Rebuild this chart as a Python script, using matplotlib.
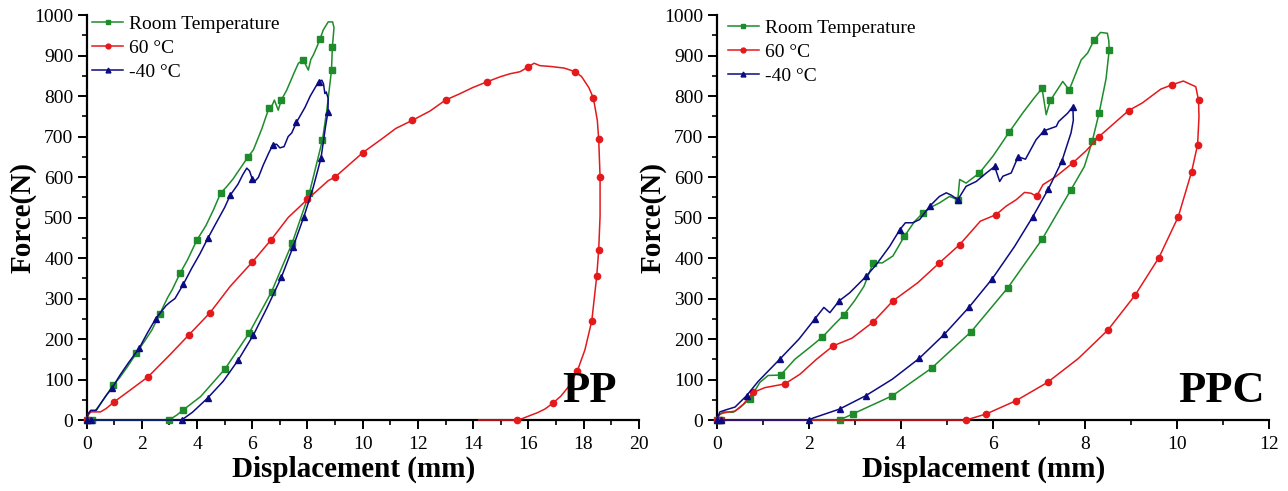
import matplotlib

matplotlib.use("Agg")
import matplotlib.pyplot as plt
from matplotlib.ticker import MultipleLocator

plt.rcParams["font.family"] = ["Liberation Serif", "DejaVu Serif"]

GREEN = "#1e8c2a"
RED = "#e3191c"
NAVY = "#0c0c82"

# ---------------- PP panel (displacement mm, force N) ----------------
pp_rt_x = [0, 0.05, 0.15, 0.3, 0.5, 0.75, 0.96, 1.2, 1.45, 1.8, 2.1, 2.36, 2.65, 2.93, 3.1,
           3.38, 3.65, 3.99, 4.32, 4.6, 4.85, 5.07, 5.3, 5.63, 5.85, 6.04, 6.35, 6.6, 6.72,
           6.8, 6.94, 7.05, 7.25, 7.5, 7.67, 7.85, 7.95, 8.03, 8.12, 8.21, 8.35, 8.45, 8.57,
           8.75, 8.91, 8.96,
           8.9, 8.87, 8.7, 8.54, 8.07, 7.44, 6.7, 5.88, 5.01, 4.13, 3.5, 3.26, 2.99, 0.2]
pp_rt_f = [0, 15, 22, 22, 40, 65, 86, 105, 129, 165, 195, 222, 262, 302, 322,
           362, 395, 444, 480, 520, 560, 576, 595, 628, 650, 667, 720, 770, 777,
           790, 765, 790, 815, 855, 881, 889, 875, 864, 890, 901, 923, 940, 963,
           983, 983, 969,
           920, 864, 765, 691, 561, 436, 317, 214, 126, 58, 25, 12, 0, 0]

pp_60_x = [0, 0.05, 0.15, 0.5, 0.7, 1.0, 1.5, 2.23, 3.0, 3.7, 4.47, 5.2, 6.0, 6.67, 7.3,
           8.0, 8.75, 9.0, 9.5, 10.0, 10.69, 11.2, 11.8, 12.44, 13.0, 13.5, 13.99, 14.5,
           15.0, 15.34, 15.7, 16.0, 16.21, 16.42, 16.8, 17.3, 17.7, 17.93, 18.2, 18.36,
           18.5, 18.55, 18.6, 18.6, 18.55, 18.48, 18.3, 18.05, 17.78, 17.49, 17.18, 16.88,
           16.6, 16.33, 16.06, 15.8, 15.6, 14.2]
pp_60_f = [0, 12, 20, 20, 28, 45, 70, 107, 160, 210, 265, 330, 390, 444, 500,
           545, 591, 600, 630, 660, 694, 720, 740, 763, 790, 805, 821, 835,
           848, 855, 860, 872, 881, 875, 873, 869, 860, 848, 820, 794,
           740, 693, 600, 504, 420, 356, 245, 173, 122, 85, 59, 41,
           27, 18, 11, 4, 0, 0]

pp_m40_x = [0, 0.05, 0.15, 0.35, 0.5, 0.7, 0.93, 1.2, 1.5, 1.9, 2.2, 2.5, 2.87, 3.0, 3.2,
            3.5, 3.8, 4.1, 4.4, 4.67, 5.0, 5.2, 5.48, 5.65, 5.8, 5.9, 6.0, 6.1, 6.22, 6.4,
            6.6, 6.75, 6.88, 7.0, 7.15, 7.3, 7.43, 7.6, 7.91, 8.1, 8.28, 8.4, 8.52, 8.58,
            8.63, 8.68, 8.75,
            8.74, 8.66, 8.49, 8.21, 7.87, 7.48, 7.05, 6.54, 6.04, 5.49, 4.95, 4.38, 3.83,
            3.44, 0.15]
pp_m40_f = [0, 15, 24, 24, 40, 60, 80, 110, 140, 177, 215, 250, 282, 290, 300,
            335, 374, 410, 450, 484, 525, 555, 582, 605, 622, 615, 595, 590, 599, 630,
            660, 680, 681, 672, 675, 700, 709, 735, 772, 800, 821, 835, 839, 830,
            806, 810, 794,
            760, 728, 647, 575, 502, 428, 352, 278, 210, 148, 96, 54, 19,
            0, 0]

# ---------------- PPC panel ----------------
ppc_rt_x = [0, 0.05, 0.15, 0.36, 0.5, 0.72, 0.94, 1.12, 1.39, 1.7, 2.02, 2.3, 2.55, 2.76,
            3.0, 3.2, 3.4, 3.6, 3.83, 4.08, 4.3, 4.48, 4.7, 4.84, 5.06, 5.24, 5.28, 5.42,
            5.71, 6.0, 6.15, 6.35, 6.65, 6.87, 7.07, 7.16, 7.25, 7.52, 7.66, 7.92, 8.06,
            8.2, 8.34, 8.49, 8.52, 8.53,
            8.46, 8.31, 8.16, 7.99, 7.69, 7.07, 6.33, 5.53, 4.67, 3.82, 2.96, 2.67, 0.1]
ppc_rt_f = [0, 12, 20, 19, 30, 52, 93, 110, 111, 150, 179, 205, 235, 259,
            295, 330, 388, 388, 405, 454, 490, 511, 528, 536, 552, 544, 594, 585,
            610, 651, 676, 710, 758, 791, 819, 754, 789, 836, 815, 889, 906,
            938, 957, 955, 937, 914,
            842, 758, 688, 626, 567, 446, 327, 218, 128, 60, 15, 0, 0]

ppc_60_x = [0, 0.07, 0.22, 0.4, 0.58, 0.79, 1.05, 1.48, 1.81, 2.17, 2.53, 2.94, 3.4, 3.83,
            4.37, 4.84, 5.28, 5.73, 6.07, 6.29, 6.51, 6.69, 6.83, 6.95, 7.09, 7.38, 7.74,
            8.03, 8.31, 8.68, 8.95, 9.25, 9.65, 9.9, 10.14, 10.41, 10.47, 10.48,
            10.45, 10.32, 10.03, 9.61, 9.09, 8.5, 7.86, 7.19, 6.51, 5.86, 5.42, 0.1]
ppc_60_f = [0, 15, 19, 22, 39, 68, 80, 89, 113, 150, 183, 202, 242, 294,
            339, 388, 433, 491, 507, 528, 544, 562, 560, 552, 581, 602, 635,
            665, 700, 737, 764, 783, 817, 828, 837, 823, 790, 748,
            680, 613, 502, 401, 308, 222, 152, 93, 48, 15, 0, 0]

ppc_m40_x = [0, 0.07, 0.2, 0.4, 0.65, 0.9, 1.37, 1.79, 2.13, 2.33, 2.46, 2.66, 2.89, 3.25,
             3.47, 3.76, 3.98, 4.1, 4.26, 4.41, 4.63, 4.84, 4.99, 5.1, 5.24, 5.42, 5.64,
             5.86, 6.04, 6.15, 6.22, 6.4, 6.55, 6.71, 6.94, 7.11, 7.38, 7.43, 7.63, 7.74,
             7.75, 7.7, 7.5, 7.21, 6.87, 6.47, 5.99, 5.48, 4.95, 4.4, 3.82, 3.24, 2.67, 2.1,
             2.0, 0.1]
ppc_m40_f = [0, 20, 25, 32, 60, 95, 150, 200, 249, 278, 265, 294, 314, 355,
             384, 429, 470, 487, 487, 495, 528, 552, 561, 555, 544, 577, 589,
             610, 626, 589, 602, 610, 650, 644, 692, 714, 725, 737, 758, 774,
             740, 709, 639, 571, 502, 428, 349, 278, 212, 152, 101, 60, 27, 5,
             0, 0]

labels = ["Room Temperature", "60 \u00b0C", "-40 \u00b0C"]
styles = [(GREEN, "s", 4.0), (RED, "o", 4.5), (NAVY, "^", 4.5)]


def draw_panel(ax, series, xmax, xstep, tag, tag_x, legend_x, legend_y):
    for (x, f), lab, (col, mk, ms) in zip(series, labels, styles):
        ax.plot(x, f, color=col, lw=1.1, marker=mk, ms=ms, markevery=0.065,
                mec=col, mfc=col, label=lab, zorder=3, clip_on=False)
    ax.set_xlim(0, xmax)
    ax.set_ylim(0, 1000)
    ax.xaxis.set_major_locator(MultipleLocator(xstep))
    ax.xaxis.set_minor_locator(MultipleLocator(xstep / 2))
    ax.yaxis.set_major_locator(MultipleLocator(100))
    ax.yaxis.set_minor_locator(MultipleLocator(50))
    for side in ("top", "right"):
        ax.spines[side].set_visible(False)
    for side in ("left", "bottom"):
        ax.spines[side].set_linewidth(1.6)
    ax.tick_params(which="major", direction="out", length=6.5, width=1.4, labelsize=14, pad=3)
    ax.tick_params(which="minor", direction="out", length=3.5, width=1.2)
    ax.tick_params(axis="x", which="major", pad=5)
    ax.set_xlabel("Displacement (mm)", fontsize=21, fontweight="bold")
    ax.set_ylabel("Force(N)", fontsize=21, fontweight="bold")
    ax.yaxis.set_label_coords(-0.09, 0.5)
    ax.xaxis.set_label_coords(0.483, -0.088)
    ax.text(tag_x, 0.022, tag, transform=ax.transAxes,
            ha="right", va="bottom", fontsize=32, fontweight="bold")
    ax.legend(loc="upper left", bbox_to_anchor=(legend_x, legend_y), frameon=False,
              fontsize=14, handlelength=1.6, handletextpad=0.3, labelspacing=0.33,
              borderaxespad=0, borderpad=0)
    for lh in ax.get_legend().get_lines():
        lh.set_markersize(3.5)


fig = plt.figure(figsize=(12.88, 4.91), dpi=100)
ax1 = fig.add_axes([0.0673, 0.1446, 0.4286, 0.8248])
ax2 = fig.add_axes([0.5564, 0.1446, 0.4288, 0.8248])

draw_panel(ax1, [(pp_rt_x, pp_rt_f), (pp_60_x, pp_60_f), (pp_m40_x, pp_m40_f)],
           20, 2, "PP", 0.96, 0.01, 1.0)
draw_panel(ax2, [(ppc_rt_x, ppc_rt_f), (ppc_60_x, ppc_60_f), (ppc_m40_x, ppc_m40_f)],
           12, 2, "PPC", 0.993, 0.02, 0.99)

fig.savefig("out.png", dpi=100)
plt.close(fig)
